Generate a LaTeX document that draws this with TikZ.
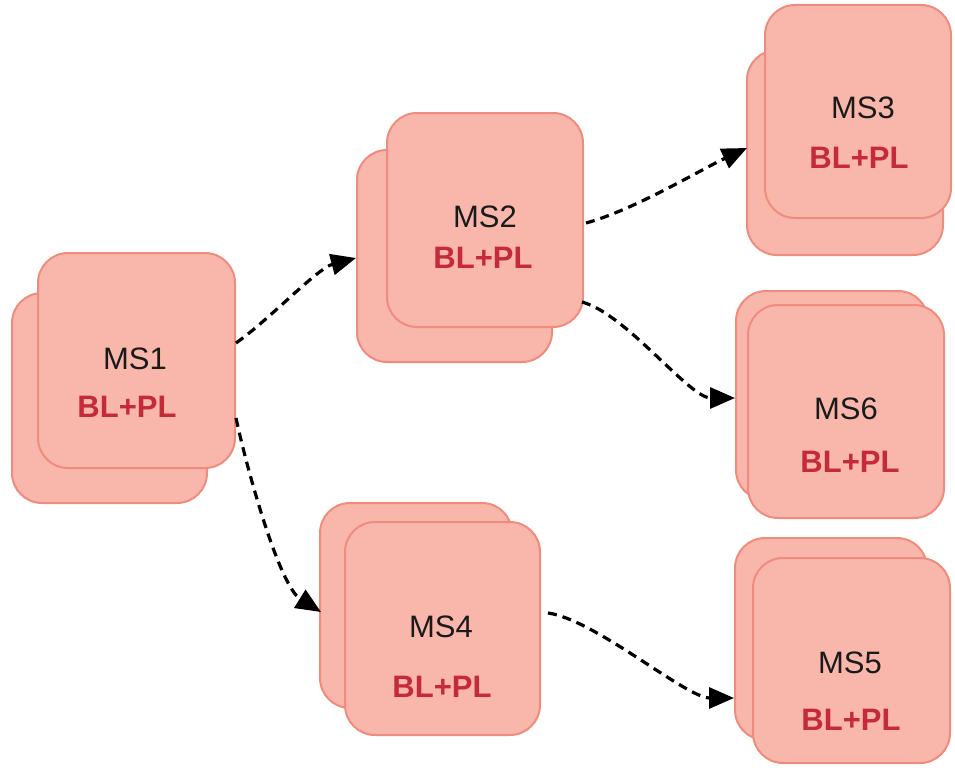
\documentclass[tikz,border=0pt]{standalone}
\usepackage{fontspec}
\setmainfont{Liberation Sans}
\usetikzlibrary{arrows.meta,calc}

\definecolor{boxfill}{RGB}{249,182,171}
\definecolor{boxline}{RGB}{240,140,125}
\definecolor{labred}{RGB}{196,42,56}
\definecolor{labdark}{RGB}{26,26,26}

\tikzset{
  card/.style={draw=boxline, fill=boxfill, line width=2pt, rounded corners=30pt,
               rectangle, inner sep=0pt},
  msname/.style={anchor=base, inner sep=0pt, text=labdark,
                 font=\fontsize{31}{34}\selectfont},
  mstag/.style={anchor=base, inner sep=0pt, text=labred,
                font=\fontsize{31}{34}\selectfont\bfseries},
  flow/.style={line width=3.2pt, dash pattern=on 9pt off 6pt,
               -{Triangle[length=25pt,width=21pt]}}
}

\begin{document}
\begin{tikzpicture}[x=1pt,y=-1pt]
\useasboundingbox (0,0) rectangle (955,776);

% MS1 stack
\node[card, minimum width=195pt, minimum height=210pt] (ms1b) at (109.5,398) {};
\node[card, minimum width=197pt, minimum height=215pt] (ms1f) at (136.5,360.5) {};
\node[msname] (ms1n) at (135,369) {MS1};
\node[mstag]  (ms1t) at (127,417) {BL+PL};

% MS2 stack
\node[card, minimum width=195pt, minimum height=212pt] (ms2b) at (454.5,256) {};
\node[card, minimum width=196pt, minimum height=214pt] (ms2f) at (485,220) {};
\node[msname] (ms2n) at (485,227) {MS2};
\node[mstag]  (ms2t) at (483,268) {BL+PL};

% MS3 stack
\node[card, minimum width=196pt, minimum height=205pt] (ms3b) at (845,152.5) {};
\node[card, minimum width=186pt, minimum height=213pt] (ms3f) at (858,111.5) {};
\node[msname] (ms3n) at (863,118) {MS3};
\node[mstag]  (ms3t) at (859,168) {BL+PL};

% MS6 stack
\node[card, minimum width=192pt, minimum height=209pt] (ms6b) at (832,395.5) {};
\node[card, minimum width=196pt, minimum height=213pt] (ms6f) at (846,411.5) {};
\node[msname] (ms6n) at (846,419) {MS6};
\node[mstag]  (ms6t) at (850,472) {BL+PL};

% MS4 stack
\node[card, minimum width=192pt, minimum height=205pt] (ms4b) at (416,605.5) {};
\node[card, minimum width=195pt, minimum height=213pt] (ms4f) at (442.5,628.5) {};
\node[msname] (ms4n) at (441,637) {MS4};
\node[mstag]  (ms4t) at (442,697) {BL+PL};

% MS5 stack
\node[card, minimum width=192pt, minimum height=202pt] (ms5b) at (831,639) {};
\node[card, minimum width=197pt, minimum height=205pt] (ms5f) at (851.5,660.5) {};
\node[msname] (ms5n) at (850,673) {MS5};
\node[mstag]  (ms5t) at (851,730) {BL+PL};

% dashed flows between the stacks
\draw[flow] ($(ms1f.east)+(0,-17.5)$) to[out=35,in=195,looseness=0.7] ($(ms2b.west)+(0,2)$);
\draw[flow] ($(ms1f.east)+(0,57.5)$) to[out=-78,in=148,looseness=0.6] ($(ms4b.west)+(2,6.5)$);
\draw[flow] ($(ms2f.east)+(2,3)$) to[out=15,in=205,looseness=0.7] ($(ms3b.west)+(1,-4.5)$);
\draw[flow] ($(ms2f.east)+(-2,82)$) to[out=-15,in=180,looseness=0.65] ($(ms6b.west)+(0,2.5)$);
\draw[flow] ($(ms4f.east)+(7,-15.5)$) to[out=-8,in=180,looseness=0.6] ($(ms5b.west)+(0,59)$);
\end{tikzpicture}
\end{document}
